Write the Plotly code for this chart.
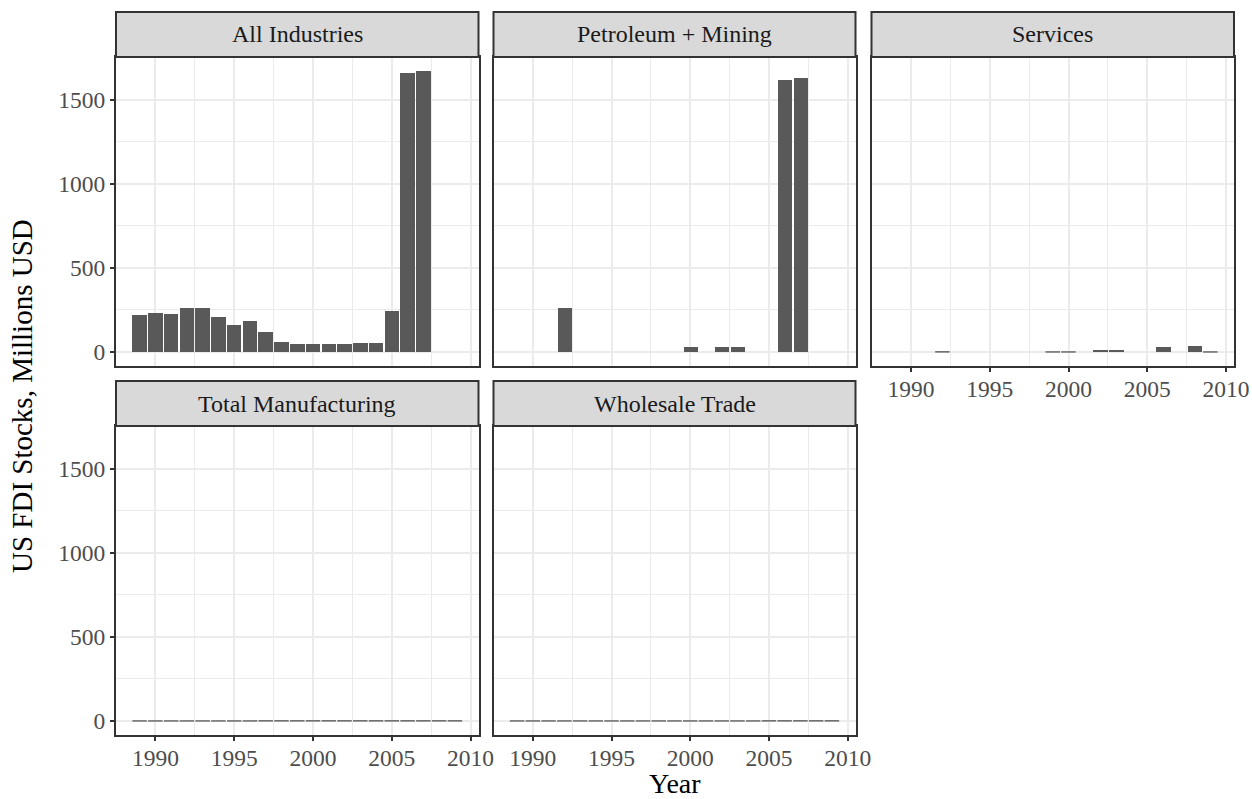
import plotly.graph_objects as go

# ---- data ----
panels = ["All Industries", "Petroleum + Mining", "Services", "Total Manufacturing", "Wholesale Trade"]

all_years = [1989, 1990, 1991, 1992, 1993, 1994, 1995, 1996, 1997, 1998, 1999,
             2000, 2001, 2002, 2003, 2004, 2005, 2006, 2007]
all_vals = [221, 233, 227, 263, 263, 210, 162, 186, 120, 60, 48,
            48, 48, 48, 54, 54, 245, 1661, 1672]

pet_years = [1992, 2000, 2002, 2003, 2006, 2007]
pet_vals = [259, 27, 27, 27, 1620, 1632]

svc_years = [1992, 1999, 2000, 2002, 2003, 2006, 2008, 2009]
svc_vals = [0, 0, 0, 14, 14, 27, 33, 0]

mfg_years = list(range(1989, 2010))
mfg_vals = [0] * len(mfg_years)

whs_years = list(range(1989, 2010))
whs_vals = [0] * len(whs_years)

series = [(all_years, all_vals), (pet_years, pet_vals), (svc_years, svc_vals),
          (mfg_years, mfg_vals), (whs_years, whs_vals)]

x_ticks = [1990, 1995, 2000, 2005, 2010]
y_ticks = [0, 500, 1000, 1500]

# ---- layout geometry ----
W, H = 1252, 799
cols = [(116, 478.5), (493.5, 855.5), (871.5, 1234)]
rows = [(57, 366), (426, 735)]          # panel top/bottom in px
strip_h = 45
pos = [(0, 0), (0, 1), (0, 2), (1, 0), (1, 1)]

BAR = "#595959"
FONT = "Liberation Serif"
BW = 0.92
LW = 2
TICKF = dict(family=FONT, size=23.5, color="#4D4D4D")

fig = go.Figure()
shapes = []
annotations = []

all_max = max(max(v) for _, v in series)
ymin, ymax = 0, all_max
ypad = (ymax - ymin) * 0.05
xr = [1988.55 - 21 * 0.05, 2009.45 + 21 * 0.05]
yr = [ymin - ypad, ymax + ypad]

for i, (name, (yrs, vals)) in enumerate(zip(panels, series)):
    r, c = pos[i]
    sfx = "" if i == 0 else str(i + 1)
    xa, ya = "x" + sfx, "y" + sfx
    fig.add_trace(go.Bar(x=yrs, y=vals, width=BW, marker=dict(color=BAR, line=dict(width=0)),
                         xaxis=xa, yaxis=ya, showlegend=False, hoverinfo="x+y"))
    # hairlines for zero-height bars
    hx, hy = [], []
    for yv, v in zip(yrs, vals):
        if v == 0:
            hx += [yv - BW / 2, yv + BW / 2, None]
            hy += [v, v, None]
    if hx:
        fig.add_trace(go.Scatter(x=hx, y=hy, mode="lines", line=dict(color="#4a4a4a", width=1.2),
                                 xaxis=xa, yaxis=ya, showlegend=False, hoverinfo="skip"))
    x0, x1 = cols[c]
    top, bot = rows[r]
    show_x = (r == 1) or (i == 2)
    show_y = (c == 0)
    fig.layout["xaxis" + sfx] = dict(
        domain=[x0 / W, x1 / W], anchor=ya, range=xr, tickvals=x_ticks, automargin=False,
        showticklabels=show_x, ticks="outside" if show_x else "", ticklen=4, tickwidth=LW,
        tickcolor="#333333", tickfont=TICKF, ticklabelstandoff=-3,
        showgrid=True, gridcolor="#EBEBEB", gridwidth=2,
        minor=dict(tickvals=[1987.5, 1992.5, 1997.5, 2002.5, 2007.5], showgrid=True,
                   gridcolor="#EBEBEB", gridwidth=1, ticks=""),
        showline=True, mirror=True, linecolor="#333333", linewidth=LW,
        zeroline=False, fixedrange=True)
    fig.layout["yaxis" + sfx] = dict(
        domain=[1 - bot / H, 1 - top / H], anchor=xa, range=yr, tickvals=y_ticks, automargin=False,
        showticklabels=show_y, ticks="outside" if show_y else "", ticklen=4, tickwidth=LW,
        tickcolor="#333333", tickfont=TICKF,
        showgrid=True, gridcolor="#EBEBEB", gridwidth=2,
        minor=dict(tickvals=[250, 750, 1250, 1750], showgrid=True,
                   gridcolor="#EBEBEB", gridwidth=1, ticks=""),
        showline=True, mirror=True, linecolor="#333333", linewidth=LW,
        zeroline=False, fixedrange=True)
    # strip
    shapes.append(dict(type="rect", xref="paper", yref="paper",
                       x0=x0 / W, x1=x1 / W, y0=1 - top / H, y1=1 - (top - strip_h) / H,
                       fillcolor="#D9D9D9", line=dict(color="#333333", width=LW), layer="above"))
    annotations.append(dict(text=name, xref="paper", yref="paper", showarrow=False,
                            x=(x0 + x1) / 2 / W, y=1 - (top - strip_h / 2) / H,
                            xanchor="center", yanchor="middle",
                            font=dict(family=FONT, size=24, color="#1A1A1A")))

annotations.append(dict(text="US FDI Stocks, Millions USD", xref="paper", yref="paper",
                        showarrow=False, textangle=-90, x=22 / W, y=1 - 396 / H,
                        xanchor="center", yanchor="middle",
                        font=dict(family=FONT, size=29, color="#000000")))
annotations.append(dict(text="Year", xref="paper", yref="paper", showarrow=False,
                        x=675 / W, y=0, xanchor="center", yanchor="bottom", yshift=-1,
                        borderpad=0, font=dict(family=FONT, size=28, color="#000000")))

fig.update_layout(width=W, height=H, margin=dict(l=0, r=0, t=0, b=0),
                  paper_bgcolor="white", plot_bgcolor="white", bargap=0,
                  shapes=shapes, annotations=annotations,
                  font=dict(family=FONT))

fig.write_html("out.html")
